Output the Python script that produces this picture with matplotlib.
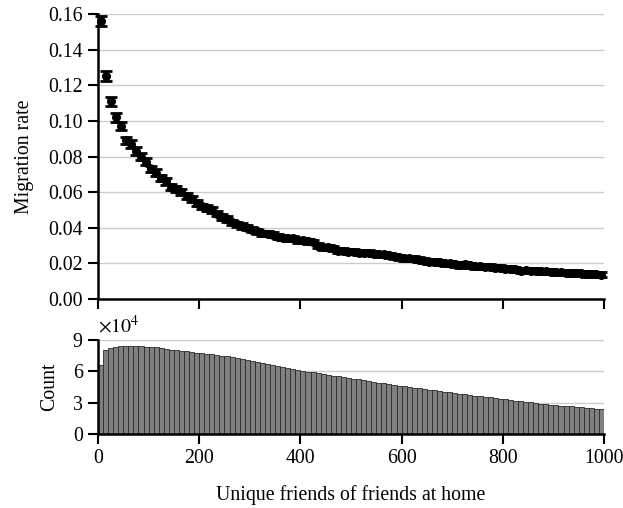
import matplotlib
matplotlib.use("Agg")
import matplotlib.pyplot as plt
import numpy as np

plt.rcParams['font.family'] = ['Liberation Serif', 'DejaVu Serif']
plt.rcParams['mathtext.fontset'] = 'stix'

# bin centers (unique friends of friends at home)
bin_centers = list(range(5, 1000, 10))
bin_edges_left = list(range(0, 1000, 10))

migration_rate = [
    0.156, 0.125, 0.111, 0.102, 0.097, 0.089, 0.087, 0.083, 0.080, 0.077,
    0.073, 0.071, 0.068, 0.066, 0.063, 0.062, 0.060, 0.058, 0.056, 0.054,
    0.052, 0.051, 0.050, 0.048, 0.046, 0.045, 0.043, 0.042, 0.041, 0.040,
    0.039, 0.038, 0.037, 0.0365, 0.036, 0.035, 0.0345, 0.034, 0.034, 0.033,
    0.033, 0.0325, 0.032, 0.030, 0.029, 0.029, 0.0285, 0.027, 0.027, 0.0265,
    0.0265, 0.026, 0.026, 0.026, 0.0255, 0.025, 0.025, 0.0245, 0.024, 0.0235,
    0.023, 0.023, 0.0225, 0.022, 0.0215, 0.021, 0.021, 0.0205, 0.020, 0.020,
    0.0195, 0.019, 0.0195, 0.019, 0.0185, 0.0185, 0.018, 0.018, 0.0175, 0.0175,
    0.017, 0.017, 0.0168, 0.016, 0.0162, 0.016, 0.0158, 0.0155, 0.0155, 0.0152,
    0.015, 0.015, 0.0148, 0.0145, 0.0148, 0.0145, 0.014, 0.0142, 0.0138, 0.0135,
]

rate_err = [
    0.0030, 0.0028, 0.0026, 0.0024, 0.0023, 0.0022, 0.0021, 0.0021, 0.0020, 0.0020,
    0.0019, 0.0019, 0.0018, 0.0018, 0.0018, 0.0017, 0.0017, 0.0017, 0.0017, 0.0016,
    0.0016, 0.0016, 0.0016, 0.0016, 0.0015, 0.0015, 0.0015, 0.0015, 0.0015, 0.0015,
    0.0015, 0.0015, 0.0014, 0.0014, 0.0014, 0.0014, 0.0014, 0.0014, 0.0014, 0.0014,
    0.0014, 0.0014, 0.0014, 0.0014, 0.0014, 0.0014, 0.0014, 0.0014, 0.0014, 0.0014,
    0.0014, 0.0014, 0.0014, 0.0014, 0.0014, 0.0014, 0.0014, 0.0014, 0.0014, 0.0014,
    0.0014, 0.0014, 0.0014, 0.0014, 0.0014, 0.0014, 0.0014, 0.0014, 0.0014, 0.0014,
    0.0014, 0.0014, 0.0014, 0.0014, 0.0014, 0.0014, 0.0014, 0.0014, 0.0014, 0.0014,
    0.0014, 0.0014, 0.0014, 0.0014, 0.0014, 0.0014, 0.0014, 0.0014, 0.0014, 0.0014,
    0.0014, 0.0014, 0.0014, 0.0014, 0.0014, 0.0014, 0.0014, 0.0014, 0.0014, 0.0014,
]

# counts in units of 10^4
count_1e4 = [
    6.65, 8.00, 8.27, 8.32, 8.38, 8.42, 8.45, 8.42, 8.38, 8.35,
    8.33, 8.30, 8.22, 8.15, 8.08, 8.02, 7.97, 7.92, 7.86, 7.80,
    7.74, 7.68, 7.62, 7.56, 7.50, 7.43, 7.36, 7.28, 7.20, 7.08,
    7.00, 6.92, 6.84, 6.72, 6.60, 6.50, 6.42, 6.30, 6.22, 6.12,
    6.05, 5.97, 5.90, 5.82, 5.75, 5.67, 5.60, 5.52, 5.45, 5.38,
    5.30, 5.22, 5.15, 5.08, 5.00, 4.93, 4.86, 4.78, 4.70, 4.62,
    4.56, 4.50, 4.45, 4.40, 4.32, 4.25, 4.18, 4.12, 4.06, 4.00,
    3.93, 3.87, 3.81, 3.75, 3.68, 3.62, 3.56, 3.50, 3.44, 3.38,
    3.32, 3.26, 3.20, 3.14, 3.08, 3.02, 2.96, 2.91, 2.86, 2.81,
    2.77, 2.72, 2.68, 2.64, 2.60, 2.56, 2.52, 2.48, 2.44, 2.40,
]

x_ticks = [0, 200, 400, 600, 800, 1000]
rate_ticks = [0.00, 0.02, 0.04, 0.06, 0.08, 0.10, 0.12, 0.14, 0.16]
count_ticks = [0, 3, 6, 9]

W, H = 623, 508
fig = plt.figure(figsize=(W / 100, H / 100), dpi=100)

left = 98 / W
right = 604 / W
ax1 = fig.add_axes([left, 1 - 299 / H, right - left, (299 - 14) / H])
ax2 = fig.add_axes([left, 1 - 434 / H, right - left, (434 - 340) / H])

FS = 14.3
for ax in (ax1, ax2):
    ax.spines['top'].set_visible(False)
    ax.spines['right'].set_visible(False)
    ax.spines['left'].set_linewidth(1.8)
    ax.spines['bottom'].set_linewidth(1.8)
    ax.tick_params(direction='out', length=7, width=1.5, labelsize=FS, colors='black', pad=4)
    ax.set_xlim(0, 1000)
    ax.set_xticks(x_ticks)
    ax.yaxis.grid(True, color='#cccccc', linewidth=1.0)
    ax.set_axisbelow(True)

ax1.errorbar(bin_centers, migration_rate, yerr=rate_err, fmt='o', color='black',
             markersize=5.5, elinewidth=1.6, capsize=4.0, capthick=2.0, clip_on=False, zorder=3)
ax1.set_ylim(0, 0.16)
ax1.set_yticks(rate_ticks)
ax1.set_yticklabels([f"{t:.2f}" for t in rate_ticks])
ax1.set_xticklabels([])
ax1.set_ylabel('Migration rate', fontsize=FS, labelpad=10)

ax2.bar(bin_edges_left, count_1e4, width=10, align='edge', color='#808080',
        edgecolor='#2a2a2a', linewidth=0.6, zorder=2)
ax2.set_ylim(0, 9)
ax2.set_yticks(count_ticks)
ax2.set_yticklabels([str(t) for t in count_ticks])
ax2.set_ylabel('Count', fontsize=FS, labelpad=10)
ax2.set_xlabel('Unique friends of friends at home', fontsize=FS, labelpad=12)
ax2.text(0, 1.03, r'$\times10^4$', transform=ax2.transAxes, fontsize=FS,
         ha='left', va='bottom')

fig.savefig('out.png', dpi=100)
